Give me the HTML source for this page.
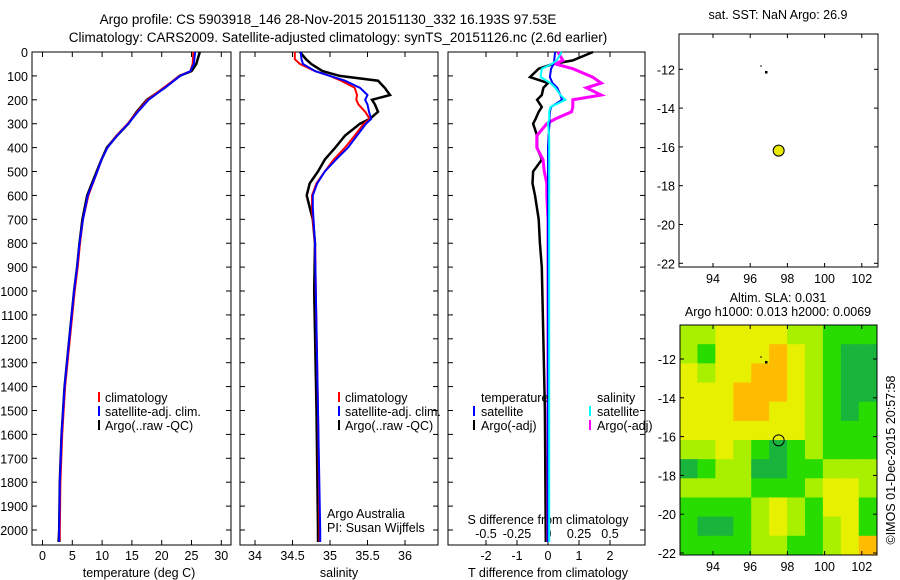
<!DOCTYPE html>
<html><head><meta charset="utf-8"><style>
body{margin:0;background:#fff}
svg{display:block;font-family:"Liberation Sans",sans-serif;font-size:12.5px}
.tt{font-size:13.5px}
</style></head><body>
<svg id="s" width="900" height="580" viewBox="0 0 900 580">
<text class="tt" x="328" y="24" text-anchor="middle">Argo profile: CS 5903918_146 28-Nov-2015 20151130_332 16.193S 97.53E</text>
<text class="tt" x="338" y="42" text-anchor="middle">Climatology: CARS2009. Satellite-adjusted climatology: synTS_20151126.nc (2.6d earlier)</text>
<text x="778" y="19" text-anchor="middle">sat. SST: NaN Argo: 26.9</text>
<text x="778" y="302" text-anchor="middle">Altim. SLA: 0.031</text>
<text x="778" y="316" text-anchor="middle">Argo h1000: 0.013 h2000: 0.0069</text>
<text transform="translate(895,460) rotate(-90)" text-anchor="middle">©IMOS 01-Dec-2015 20:57:58</text>
<g id="g"></g>
</svg>
<script>
// depth levels (m)
const depthT=[0,50,80,100,150,200,250,300,350,400,450,500,600,700,800,900,1000,1200,1400,1600,1800,2000,2050];
const tempArgo=[26.4,25.8,25,23,20.5,17.5,15.8,14.4,12.5,10.8,9.9,9.1,7.5,6.7,6.2,5.8,5.3,4.5,3.7,3.2,2.9,2.8,2.7];
const tempClim=[25.3,25.2,24.8,23,20.3,17.6,15.9,14.3,12.4,10.9,9.9,9.2,7.7,6.8,6.3,5.9,5.4,4.6,3.8,3.3,3.0,2.9,2.9];
const tempSat=[25.6,25.4,24.8,23.1,20.5,17.8,16,14.4,12.5,10.9,9.9,9.2,7.6,6.8,6.2,5.8,5.3,4.5,3.7,3.2,2.9,2.8,2.8];
const depthS=[0,30,50,80,100,120,150,180,200,220,250,280,300,350,400,450,500,550,600,650,700,800,1000,1500,2000,2050];
const salArgo=[34.6,34.68,34.75,34.9,35.13,35.64,35.73,35.8,35.56,35.6,35.64,35.53,35.4,35.2,35.07,34.93,34.84,34.73,34.69,34.73,34.77,34.8,34.79,34.82,34.84,34.84];
const salClim=[34.53,34.53,34.6,34.8,35.0,35.15,35.33,35.36,35.35,35.38,35.47,35.53,35.45,35.33,35.2,35.05,34.93,34.82,34.76,34.76,34.77,34.8,34.81,34.84,34.86,34.86];
const salSat=[34.61,34.62,34.64,34.8,35.0,35.2,35.4,35.5,35.47,35.5,35.52,35.55,35.48,35.36,35.24,35.08,34.93,34.83,34.77,34.77,34.78,34.8,34.81,34.84,34.87,34.87];
const depthD=[0,35,50,70,105,130,150,180,200,230,250,280,300,350,400,450,500,550,600,700,800,900,1500,2050];
const tdiffArgo=[1.45,0.8,0.16,-0.3,-0.58,0,-0.15,-0.2,-0.35,-0.2,-0.3,-0.4,-0.48,-0.35,-0.35,-0.2,-0.48,-0.5,-0.42,-0.3,-0.26,-0.2,-0.1,-0.07];
const tdiffSat=[0.23,0.2,0.18,0.1,0.06,0.15,0.3,0.4,0.45,0.1,0.06,0.05,0.05,0.02,0,0,0,0,0,0,0,0,0,0];
const sdiffArgo=[0.08,0.12,0.06,0.2,0.36,0.43,0.31,0.43,0.2,0.2,0.19,0.06,-0.01,-0.09,-0.09,-0.04,-0.03,-0.01,-0.01,0,0,0,0,0];
const sdiffSat=[0.11,0.07,0.03,-0.05,-0.06,0.02,0.06,0.1,0.14,0.02,0.01,0.01,0,0.01,0.01,0.01,0.01,0.01,0.01,0.01,0.01,0.01,0.01,0.01];
const depthTicks=[0,100,200,300,400,500,600,700,800,900,1000,1100,1200,1300,1400,1500,1600,1700,1800,1900,2000];
const tTicks=[0,5,10,15,20,25,30];
const sTicks=[34,34.5,35,35.5,36];
const sdTicks=[-0.5,-0.25,0,0.25,0.5];
const sdTickLabels=['-0.5','-0.25','0','0.25','0.5'];
const tdTicks=[-2,-1,0,1,2];
const lonTicks=[94,96,98,100,102];
const latTicks=[-12,-14,-16,-18,-20,-22];
// SLA grid (rows lat -10.25..-22.1, cols lon 92.2..102.8), category 0-4
const slaGrid=[
[2,2,3,3,3,3,2,2,1,1,1],
[2,1,3,3,3,4,3,2,1,0,0],
[3,2,3,3,4,4,3,2,1,0,0],
[3,3,3,4,4,4,3,2,1,0,0],
[3,3,3,4,4,3,3,2,1,0,1],
[3,3,3,3,3,3,3,2,1,1,1],
[2,2,3,2,1,0,1,2,1,1,1],
[0,1,2,2,0,0,1,1,2,2,2],
[2,2,2,2,1,1,1,2,3,3,2],
[1,1,1,1,2,3,2,1,3,3,1],
[1,0,0,1,2,3,2,1,2,3,1],
[1,1,1,1,2,2,1,1,2,3,4]];
const slaColors=['#18b43c','#28dc00','#a8f000','#e6f000','#ffbc00'];
const argoLon=97.53, argoLat=-16.193;

const NS='http://www.w3.org/2000/svg', G=document.getElementById('g');
function mk(t,a,p){const e=document.createElementNS(NS,t);for(const k in a)e.setAttribute(k,a[k]);(p||G).appendChild(e);return e;}
const yD=d=>52+d*0.239;
const pTop=52,pBot=545;
function panel(x0,x1,name){
  const r=mk('rect',{x:x0,y:pTop,width:x1-x0,height:pBot-pTop,fill:'none',stroke:'#000'});
  
  
}
function line(ds,vs,fx,col,w,name){
  const p=mk('polyline',{points:ds.map((d,i)=>fx(vs[i]).toFixed(1)+','+yD(d).toFixed(1)).join(' '),fill:'none',stroke:col,'stroke-width':w});
  
  
}
function txt(x,y,s,name,anchor){const t=mk('text',{x:x,y:y,'text-anchor':anchor||'start'});t.textContent=s;
  
  return t;}
function xticks(xs,fx,labels,ly,name,topTicks){
  xs.forEach((v,i)=>{const x=fx(v);
    mk('line',{x1:x,x2:x,y1:pBot,y2:pBot-5,stroke:'#000'});
    if(topTicks!==false)mk('line',{x1:x,x2:x,y1:pTop,y2:pTop+5,stroke:'#000'});
    txt(x,ly,labels[i],name,'middle');});
}
function yticks(x0,x1){depthTicks.forEach(d=>{const y=yD(d);
  mk('line',{x1:x0,x2:x0+5,y1:y,y2:y,stroke:'#000'});mk('line',{x1:x1,x2:x1-5,y1:y,y2:y,stroke:'#000'});});}
function legMark(x,y,col){mk('line',{x1:x,x2:x,y1:y-10,y2:y,stroke:col,'stroke-width':2});}

// Panel 1 temperature
const fT=v=>42.5+v*5.96;
panel(32,231,'temperature-panel');yticks(32,231);
depthTicks.forEach(d=>txt(28,yD(d)+5,String(d),'depth-tick-label','end'));
xticks(tTicks,fT,tTicks.map(String),560,'temperature-tick-label');
txt(139,577,'temperature (deg C)','temperature-axis-title','middle');
line(depthT,tempArgo,fT,'#000',2.5,'temperature-argo-line');
line(depthT,tempClim,fT,'#f00',2,'temperature-climatology-line');
line(depthT,tempSat,fT,'#00f',2,'temperature-satellite-line');
legMark(99,402,'#f00');txt(105,402,'climatology','legend-climatology');
legMark(99,416,'#00f');txt(105,416,'satellite-adj. clim.','legend-satellite');
legMark(99,430,'#000');txt(105,430,'Argo(..raw -QC)','legend-argo');

// Panel 2 salinity
const fS=v=>255+(v-34)*75;
panel(240,438,'salinity-panel');yticks(240,438);
xticks(sTicks,fS,sTicks.map(String),560,'salinity-tick-label');
txt(339,577,'salinity','salinity-axis-title','middle');
line(depthS,salArgo,fS,'#000',2.5,'salinity-argo-line');
line(depthS,salClim,fS,'#f00',2,'salinity-climatology-line');
line(depthS,salSat,fS,'#00f',2,'salinity-satellite-line');
legMark(339,402,'#f00');txt(345,402,'climatology','legend-climatology');
legMark(339,416,'#00f');txt(345,416,'satellite-adj. clim.','legend-satellite');
legMark(339,430,'#000');txt(345,430,'Argo(..raw -QC)','legend-argo');
txt(327,518,'Argo Australia','argo-australia-label');
txt(327,532,'PI: Susan Wijffels','pi-label');

// Panel 3 differences
const fTD=v=>548+v*31, fSD=v=>548+v*124;
panel(448,645,'difference-panel');yticks(448,645);
xticks(tdTicks,fTD,tdTicks.map(String),560,'tdiff-tick-label');
sdTicks.forEach((v,i)=>txt(fSD(v),538,sdTickLabels[i],'sdiff-tick-label','middle'));
txt(548,524,'S difference from climatology','sdiff-axis-title','middle');
txt(548,577,'T difference from climatology','tdiff-axis-title','middle');
line(depthD,tdiffArgo,fTD,'#000',2.5,'tdiff-argo-line');
line(depthD,sdiffArgo,fSD,'#f0f',3,'sdiff-argo-line');
line(depthD,tdiffSat,fTD,'#00f',2,'tdiff-satellite-line');
line(depthD,sdiffSat,fSD,'#0ff',2,'sdiff-satellite-line');
txt(481,402,'temperature','legend-temperature');txt(597,402,'salinity','legend-salinity');
legMark(474,416,'#00f');txt(481,416,'satellite','legend-t-satellite');
legMark(590,416,'#0ff');txt(597,416,'satellite','legend-s-satellite');
legMark(474,430,'#000');txt(481,430,'Argo(-adj)','legend-t-argo');
legMark(590,430,'#f0f');txt(597,430,'Argo(-adj)','legend-s-argo');

// Maps
function mapAxes(x0,y0,x1,y1,fx,fy,name){
  lonTicks.forEach(v=>{const x=fx(v);mk('line',{x1:x,x2:x,y1:y1,y2:y1-4,stroke:'#000'});mk('line',{x1:x,x2:x,y1:y0,y2:y0+4,stroke:'#000'});
    txt(x,y1+16,String(v),name+'-lon-label','middle');});
  latTicks.forEach(v=>{const y=fy(v);mk('line',{x1:x0,x2:x0+4,y1:y,y2:y,stroke:'#000'});mk('line',{x1:x1,x2:x1-4,y1:y,y2:y,stroke:'#000'});
    txt(x0-4,y+5,String(v),name+'-lat-label','end');});
  const r=mk('rect',{x:x0,y:y0,width:x1-x0,height:y1-y0,fill:'none',stroke:'#000'});
  
  
}
const fx1=v=>713+(v-94)*18.6, fy1=v=>69.3+(-12-v)*19.4;
mapAxes(679,34,878,267,fx1,fy1,'sst-map');
mk('circle',{cx:761,cy:66,r:0.8,fill:'#000'});mk('rect',{x:765,y:71,width:2.5,height:2.5,fill:'#000'});
const c1=mk('circle',{cx:fx1(argoLon),cy:fy1(argoLat),r:5.5,fill:'#e8e800',stroke:'#000'});



const fx2=v=>713+(v-94)*18.6, fy2=v=>359+(-12-v)*19.4;
const defs=mk('defs',{});
const clip=mk('clipPath',{id:'mc'},defs);mk('rect',{x:680,y:325,width:197,height:230},clip);
const hg=mk('g',{'clip-path':'url(#mc)'});
const lonW=10.6/11, latH=11.85/12;
slaGrid.forEach((row,ri)=>row.forEach((c,ci)=>{
  const lon0=92.2+ci*lonW, lat0=-10.25-ri*latH;
  const r=mk('rect',{x:fx2(lon0),y:fy2(lat0),width:lonW*18.6+0.6,height:latH*19.4+0.6,fill:slaColors[c]},hg);
  
  
}));
mapAxes(680,325,877,555,fx2,fy2,'sla-map');
mk('circle',{cx:761,cy:357,r:0.8,fill:'#000'});mk('rect',{x:765,y:361,width:2.5,height:2.5,fill:'#000'});
const c2=mk('circle',{cx:fx2(argoLon),cy:fy2(argoLat),r:5.5,fill:'none',stroke:'#000'});


</script>
</body></html>
